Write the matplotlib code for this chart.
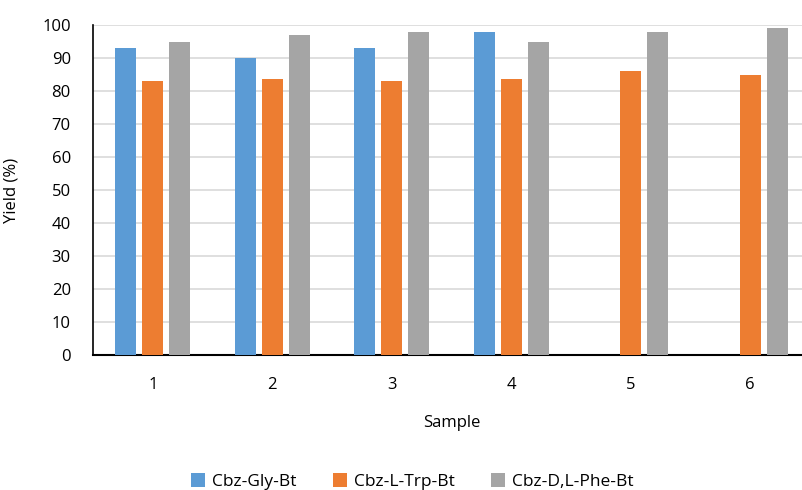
import numpy as np
import matplotlib
matplotlib.use("Agg")
import matplotlib.pyplot as plt

plt.rcParams['font.family'] = ['Open Sans', 'DejaVu Sans']

samples = ["1", "2", "3", "4", "5", "6"]
series_names = ["Cbz-Gly-Bt", "Cbz-L-Trp-Bt", "Cbz-D,L-Phe-Bt"]
gly = [93, 90, 93, 98, np.nan, np.nan]
trp = [83, 83.5, 83, 83.5, 86, 85]
phe = [95, 97, 98, 95, 98, 99]
y_ticks = list(range(0, 101, 10))

colors = ["#5B9BD5", "#ED7D31", "#A5A5A5"]

fig = plt.figure(figsize=(8.02, 4.90), dpi=100)
ax = fig.add_axes([93 / 802, 135 / 490, 717 / 802, 330 / 490])

x = np.arange(1, len(samples) + 1)
width = 0.175
offset = 0.225
for i, (vals, name) in enumerate(zip([gly, trp, phe], series_names)):
    ax.bar(x + (i - 1) * offset, vals, width=width, color=colors[i],
           label=name, zorder=3)

ax.set_xlim(0.5, 6.5)
ax.set_ylim(0, 100)
ax.set_yticks(y_ticks)
ax.set_xticks(x)
ax.set_xticklabels(samples)
ax.yaxis.grid(True, color="#D9D9D9", linewidth=1.2, zorder=0)
ax.set_axisbelow(True)

for side in ["top", "right"]:
    ax.spines[side].set_visible(False)
ax.spines["left"].set_linewidth(1.2)
ax.spines["bottom"].set_linewidth(1.5)

ax.tick_params(axis="both", length=0, labelsize=12, colors="black")
ax.tick_params(axis="y", pad=16)
ax.tick_params(axis="x", pad=16)

ax.set_ylabel("Yield (%)", fontsize=12, color="black", labelpad=16)
ax.set_xlabel("Sample", fontsize=12, color="black", labelpad=16)

fig.legend(loc="lower center", bbox_to_anchor=(0.514, -0.032), ncol=3,
           frameon=False, fontsize=12.5, handlelength=0.8, handleheight=0.8,
           handletextpad=0.4, columnspacing=2.1)

fig.savefig("out.png", dpi=100)
